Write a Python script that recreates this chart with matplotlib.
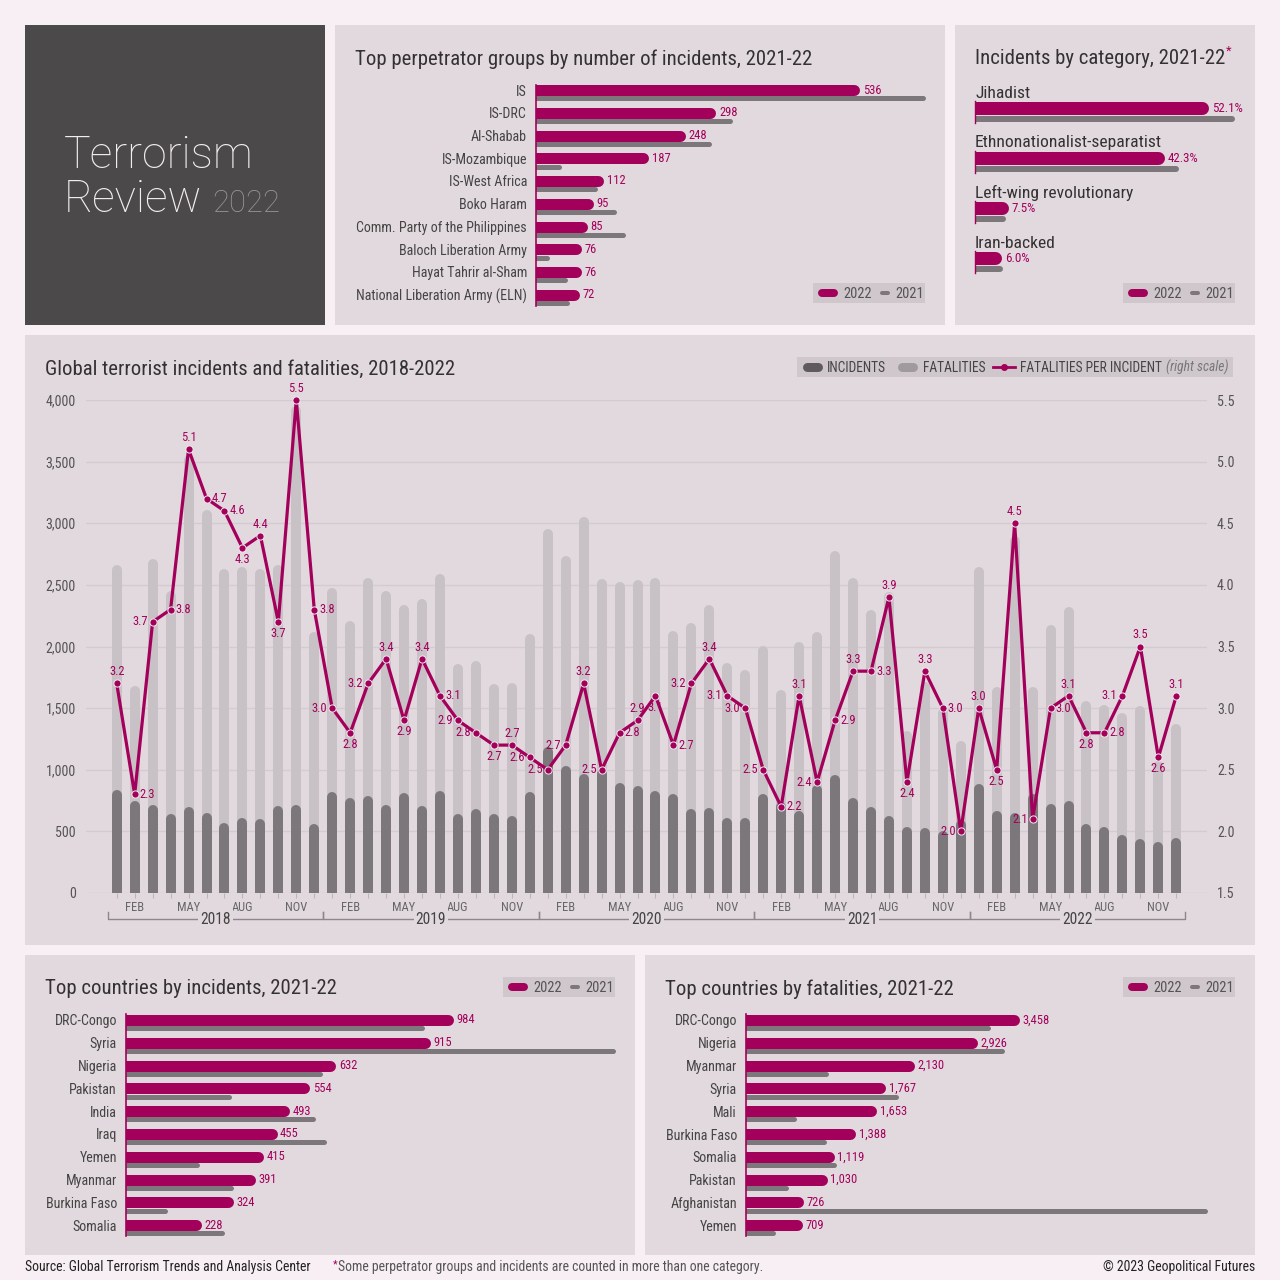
import numpy as np
import matplotlib.pyplot as plt
from matplotlib import font_manager
from matplotlib.lines import Line2D
from matplotlib.patches import Rectangle
from matplotlib.transforms import ScaledTranslation, blended_transform_factory

# ---------------- data ----------------
groups = ['IS', 'IS-DRC', 'Al-Shabab', 'IS-Mozambique', 'IS-West Africa', 'Boko Haram',
          'Comm. Party of the Philippines', 'Baloch Liberation Army', 'Hayat Tahrir al-Sham',
          'National Liberation Army (ELN)']
groups_2022 = [536, 298, 248, 187, 112, 95, 85, 76, 76, 72]
groups_2021 = [645, 325, 290, 43, 102, 134, 148, 23, 52, 56]

categories = ['Jihadist', 'Ethnonationalist-separatist', 'Left-wing revolutionary', 'Iran-backed']
cat_2022 = [52.1, 42.3, 7.5, 6.0]
cat_2021 = [57.9, 45.5, 7.0, 6.2]

inc_countries = ['DRC-Congo', 'Syria', 'Nigeria', 'Pakistan', 'India', 'Iraq', 'Yemen',
                 'Myanmar', 'Burkina Faso', 'Somalia']
inc_2022 = [984, 915, 632, 554, 493, 455, 415, 391, 324, 228]
inc_2021 = [899, 1471, 593, 318, 570, 604, 222, 324, 125, 296]

fat_countries = ['DRC-Congo', 'Nigeria', 'Myanmar', 'Syria', 'Mali', 'Burkina Faso', 'Somalia',
                 'Pakistan', 'Afghanistan', 'Yemen']
fat_2022 = [3458, 2926, 2130, 1767, 1653, 1388, 1119, 1030, 726, 709]
fat_2021 = [3089, 3266, 1049, 1931, 640, 1015, 1148, 542, 5842, 379]

years = ['2018', '2019', '2020', '2021', '2022']
months = ['JAN', 'FEB', 'MAR', 'APR', 'MAY', 'JUN', 'JUL', 'AUG', 'SEP', 'OCT', 'NOV', 'DEC']

incidents = [839, 746, 717, 638, 695, 652, 570, 610, 601, 709, 717, 561,
             822, 774, 788, 717, 808, 704, 828, 645, 682, 645, 623, 820,
             1182, 1032, 965, 1010, 892, 871, 830, 803, 682, 690, 610, 610,
             803, 740, 666, 876, 957, 768, 701, 625, 534, 525, 504, 593,
             881, 666, 647, 800, 722, 749, 558, 539, 472, 439, 412, 445]
fatalities = [2660, 1680, 2707, 2452, 3550, 3107, 2631, 2645, 2631, 2660, 3950, 2115,
              2475, 2206, 2552, 2452, 2333, 2384, 2585, 1860, 1886, 1698, 1706, 2101,
              2956, 2738, 3050, 2550, 2526, 2539, 2558, 2128, 2187, 2335, 1867, 1811,
              2007, 1644, 2035, 2116, 2776, 2552, 2296, 2440, 1315, 1710, 1500, 1230,
              2646, 1671, 2900, 1671, 2175, 2323, 1558, 1523, 1463, 1515, 1070, 1374]
per_incident = [3.2, 2.3, 3.7, 3.8, 5.1, 4.7, 4.6, 4.3, 4.4, 3.7, 5.5, 3.8,
                3.0, 2.8, 3.2, 3.4, 2.9, 3.4, 3.1, 2.9, 2.8, 2.7, 2.7, 2.6,
                2.5, 2.7, 3.2, 2.5, 2.8, 2.9, 3.1, 2.7, 3.2, 3.4, 3.1, 3.0,
                2.5, 2.2, 3.1, 2.4, 2.9, 3.3, 3.3, 3.9, 2.4, 3.3, 3.0, 2.0,
                3.0, 2.5, 4.5, 2.1, 3.0, 3.1, 2.8, 2.8, 3.1, 3.5, 2.6, 3.1]

# where each per-incident label sits relative to its point
label_side = list('arlrarrbabar' 'lblabarllbal' 'llalrabrlall' 'lralrarabarl' 'abalrabrlaba')

# ---------------- style ----------------
W, H, DPI = 1280, 1280, 100
MAG = '#a3005b'
DARK = '#7b777a'
LIGHT = '#c8c1c6'
PANEL = '#e2d9de'
PAGE = '#f8eff4'
BOX = '#4b494a'
LEG = '#cfc7cc'
TXT = '#333132'
SUB = '#555355'

names = {f.name for f in font_manager.fontManager.ttflist}
if 'Roboto Condensed' in names:
    FONT, SC = 'Roboto Condensed', 1.0
else:
    FONT, SC = 'Roboto', 0.86
plt.rcParams['font.family'] = [FONT, 'DejaVu Sans']


def pt(px):
    return px * 72 / DPI * SC


def fx(x):
    return x / W


def fy(y):
    return 1 - y / H


def box(x0, y0, x1, y1):
    return [fx(x0), fy(y1), (x1 - x0) / W, (y1 - y0) / H]


fig = plt.figure(figsize=(W / DPI, H / DPI), dpi=DPI, facecolor=PAGE)


def panel(x0, y0, x1, y1, color=PANEL, z=-10):
    fig.add_artist(Rectangle((fx(x0), fy(y1)), (x1 - x0) / W, (y1 - y0) / H,
                             transform=fig.transFigure, facecolor=color,
                             edgecolor='none', zorder=z))


def ftext(x, y, s, px, color=TXT, **kw):
    return fig.text(fx(x), fy(y), s, fontsize=pt(px), color=color, **kw)


def right_end(t):
    fig.canvas.draw()
    return t.get_window_extent().x1


def pill(x0, x1, y, h, color):
    fig.add_artist(Line2D([fx(x0 + h / 2), fx(x1 - h / 2)], [fy(y), fy(y)],
                          transform=fig.transFigure, lw=h * 72 / DPI, color=color,
                          solid_capstyle='round', zorder=6))


def year_legend(x0, y0):
    panel(x0, y0, x0 + 112, y0 + 20, LEG, z=-5)
    pill(x0 + 5, x0 + 25, y0 + 10, 8, MAG)
    ftext(x0 + 30, y0 + 10.5, '2022', 14.5, SUB, va='center')
    pill(x0 + 67, x0 + 77, y0 + 10, 4, DARK)
    ftext(x0 + 82, y0 + 10.5, '2021', 14.5, SUB, va='center')


def round_bar(ax, v, y, h, color):
    shift = ScaledTranslation(-h / 2 / DPI, 0, fig.dpi_scale_trans)
    ax.plot([0, v], [y, y], color=color, lw=h * 72 / DPI, solid_capstyle='round',
            transform=ax.transData + shift)


def hbar_rows(axis_x, right_x, y_first, step, labels, v22, v21, px_unit, label_x,
              h22=11, h21=5, gap=8.3):
    n = len(labels)
    top = y_first - step / 2
    bottom = y_first + (n - 1) * step + step / 2
    ax = fig.add_axes(box(axis_x, top, right_x, bottom))
    ax.set_xlim(0, (right_x - axis_x) / px_unit)
    ax.set_ylim(bottom, top)
    ax.axis('off')
    for i in range(n):
        y = y_first + i * step
        round_bar(ax, v22[i], y, h22, MAG)
        round_bar(ax, v21[i], y + gap, h21, DARK)
        ax.annotate(f'{v22[i]:,}', (v22[i], y), xytext=(3, 0), textcoords='offset pixels',
                    ha='left', va='center', fontsize=pt(12.5), color=MAG)
        ftext(label_x, y + 1.5, labels[i], 14, '#444', ha='right', va='center')
    ax.plot([0, 0], [y_first - h22 / 2, y_first + (n - 1) * step + gap + h21 / 2],
            color=MAG, lw=1.2, clip_on=False)
    return ax


# ---------------- panels ----------------
panel(25, 25, 325, 325, BOX)
panel(335, 25, 945, 325)
panel(955, 25, 1255, 325)
panel(25, 335, 1255, 945)
panel(25, 955, 635, 1255)
panel(645, 955, 1255, 1255)

# title block
ftext(64, 168, 'Terrorism', 44.6 / SC, '#f3edf0', va='baseline', family='Roboto', weight='light')
rv = ftext(64, 212, 'Review', 44.6 / SC, '#f3edf0', va='baseline', family='Roboto', weight='light')
ftext(right_end(rv) + 10, 212, '2022', 31 / SC, '#9b9699', va='baseline', family='Roboto',
      weight='light')

# perpetrator groups
ftext(355, 59, 'Top perpetrator groups by number of incidents, 2021-22', 20.8, TXT, va='center')
hbar_rows(536, 940, 90, 22.75, groups, groups_2022, groups_2021, 0.604, 527)
year_legend(813, 283)

# categories
ct = ftext(975, 59, 'Incidents by category, 2021-22', 20.8, TXT, va='center')
ftext(right_end(ct) + 1, 51, '*', 13, MAG, va='center')
cax = fig.add_axes(box(975, 80, 1245, 275))
cax.set_xlim(0, 270 / 4.49)
cax.set_ylim(275, 80)
cax.axis('off')
for i, name in enumerate(categories):
    y0 = 92 + 50 * i
    ftext(975, y0 + 1, name, 17.5, TXT, va='center')
    round_bar(cax, cat_2022[i], y0 + 15.7, 13, MAG)
    round_bar(cax, cat_2021[i], y0 + 27.3, 6, DARK)
    cax.annotate(f'{cat_2022[i]:.1f}%', (cat_2022[i], y0 + 16.5), xytext=(3, 0),
                 textcoords='offset pixels', ha='left', va='center', fontsize=pt(13), color=MAG)
    cax.plot([0, 0], [y0 + 9, y0 + 30.5], color=MAG, lw=1, clip_on=False)
year_legend(1123, 283)

# bottom panels
ftext(45, 989, 'Top countries by incidents, 2021-22', 20.8, TXT, va='center')
hbar_rows(125.5, 630, 1020, 22.8, inc_countries, inc_2022, inc_2021, 0.333, 117)
year_legend(503, 977)

ftext(665, 989, 'Top countries by fatalities, 2021-22', 20.8, TXT, va='center')
hbar_rows(746, 1250, 1020, 22.8, fat_countries, fat_2022, fat_2021, 0.079, 737)
year_legend(1123, 977)

# ---------------- main chart ----------------
ftext(45, 369, 'Global terrorist incidents and fatalities, 2018-2022', 20.8, TXT, va='center')

idx = np.arange(len(incidents))
ax = fig.add_axes(box(86, 400, 1207, 893))
ax.set_xlim(-1.71, 60.71)
ax.set_ylim(0, 4000)
ax.patch.set_visible(False)
for s in ax.spines.values():
    s.set_visible(False)
ax.set_yticks(np.arange(0, 4001, 500))
ax.set_yticklabels([f'{v:,}' for v in range(0, 4001, 500)])
ax.tick_params(axis='y', length=0, pad=7.2, labelsize=pt(14), labelcolor=SUB)
ax.grid(axis='y', color='#d3cbd0', lw=1)
ax.set_axisbelow(True)
ax.set_xticks(idx)
ax.set_xticklabels([months[i % 12] if i % 3 == 1 else '' for i in idx])
ax.tick_params(axis='x', length=3.6, width=0.8, color='#bdb5ba', pad=2.5,
               labelsize=pt(12.5), labelcolor='#666')

bar_w = 10
down = ScaledTranslation(0, -bar_w / 2 / DPI, fig.dpi_scale_trans)
ax.vlines(idx, 0, fatalities, colors=LIGHT, lw=bar_w * 72 / DPI, capstyle='round',
          transform=ax.transData + down, zorder=2)
ax.vlines(idx, 0, incidents, colors=DARK, lw=bar_w * 72 / DPI, capstyle='round',
          transform=ax.transData + down, zorder=3)

yr_tr = blended_transform_factory(ax.transData, fig.transFigure)
for k, yr in enumerate(years):
    x0, x1 = 12 * k - 0.5, 12 * k + 11.5
    ax.plot([x0, x0, x1, x1], [fy(912), fy(919), fy(919), fy(912)], color='#8c878a', lw=1,
            transform=yr_tr, clip_on=False)
    ax.text((x0 + x1) / 2, fy(919), yr, transform=yr_tr, ha='center', va='center',
            fontsize=pt(15.5), color='#444',
            bbox=dict(facecolor=PANEL, edgecolor='none', pad=1.5))

ax2 = ax.twinx()
ax2.set_ylim(1.5, 5.5)
for s in ax2.spines.values():
    s.set_visible(False)
ax2.set_yticks(np.arange(1.5, 5.51, 0.5))
ax2.set_yticklabels([f'{v:.1f}' for v in np.arange(1.5, 5.51, 0.5)])
ax2.tick_params(axis='y', length=0, pad=7.2, labelsize=pt(14), labelcolor=SUB)
ax2.plot(idx, per_incident, color=MAG, lw=2.3, marker='o', ms=5.2, mfc=MAG, mec='#f3e9ee',
         mew=0.7, clip_on=False, zorder=5)
offsets = {'a': (0, 5, 'center', 'bottom'), 'b': (0, -5, 'center', 'top'),
           'l': (-5, 0, 'right', 'center'), 'r': (5, 0, 'left', 'center')}
for i, v in enumerate(per_incident):
    dx, dy, ha, va = offsets[label_side[i]]
    ax2.annotate(f'{v:.1f}', (i, v), xytext=(dx, dy), textcoords='offset pixels',
                 ha=ha, va=va, fontsize=pt(12.5), color=MAG, zorder=6, annotation_clip=False)

# main legend
panel(797, 357, 1233, 377, LEG, z=-5)
pill(802, 822, 367, 9, '#5e5a5d')
ftext(827, 367.5, 'INCIDENTS', 13.5, '#444', va='center')
pill(897, 917, 367, 9, '#a09a9e')
ftext(923, 367.5, 'FATALITIES', 13.5, '#444', va='center')
fig.add_artist(Line2D([fx(993), fx(1004), fx(1015)], [fy(367)] * 3, transform=fig.transFigure,
                      color=MAG, lw=2, marker='o', ms=4, markevery=[1], zorder=6))
fpi_t = ftext(1020, 367.5, 'FATALITIES PER INCIDENT', 13.5, '#444', va='center')
ftext(right_end(fpi_t) + 4, 367.5, '(right scale)', 13.5, '#777', va='center', style='italic')

# footer
ftext(25, 1267, 'Source: Global Terrorism Trends and Analysis Center', 13.8, '#222', va='center')
ftext(333, 1264, '*', 11, MAG, va='center')
ftext(338, 1267, 'Some perpetrator groups and incidents are counted in more than one category.',
      13.8, '#555', va='center')
ftext(1255, 1267, '\u00a9 2023 Geopolitical Futures', 13.8, '#222', ha='right', va='center')

fig.savefig('out.png', dpi=DPI, facecolor=PAGE)
